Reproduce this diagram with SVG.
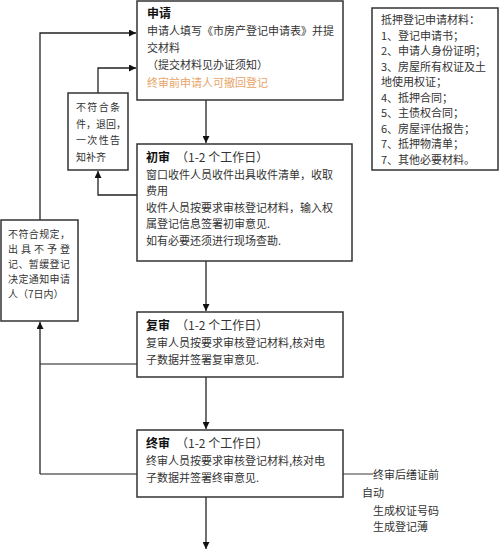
<svg xmlns="http://www.w3.org/2000/svg" width="500" height="550" viewBox="0 0 500 550">
<defs>
<marker id="ah" viewBox="0 0 10 10" refX="10" refY="5" markerWidth="7" markerHeight="7" markerUnits="userSpaceOnUse" orient="auto">
<path d="M0,0 L10,5 L0,10 z" fill="#111"/>
</marker>
<style>
.box{fill:#fff;stroke:#333;stroke-width:1.5}
.t{font-family:"Noto Sans CJK SC","Noto Sans",sans-serif;font-size:11px;fill:#333}
.s{font-size:10px}
.b{font-weight:bold;fill:#111;font-size:12px}
.h{font-size:12px}
.o{fill:#e8a468}
.c{fill:none;stroke:#222;stroke-width:1.3}
.g{fill:none;stroke:#666;stroke-width:1.3}
</style>
</defs>
<rect width="500" height="550" fill="#fff"/>
<g id="connectors">
<path class="c" d="M40,220 V33 H136" marker-end="url(#ah)"/>
<path class="c" d="M98,93 V68 H136" marker-end="url(#ah)"/>
<path class="c" d="M137,195 H98 V171" marker-end="url(#ah)"/>
<path class="c" d="M206,100 V143" marker-end="url(#ah)"/>
<path class="c" d="M206,261 V311" marker-end="url(#ah)"/>
<path class="c" d="M206,377 V429" marker-end="url(#ah)"/>
<path class="c" d="M206,497 V549" marker-end="url(#ah)"/>
<path class="g" d="M137,364 H40"/>
<path class="g" d="M137,474 H40"/>
<path class="c" d="M40,474 V322" marker-end="url(#ah)"/>
<path class="g" d="M343,474 H373"/>
</g>
<g id="apply">
<rect class="box" x="137" y="1" width="206" height="99"/>
<text class="t b" x="147" y="18">申请</text>
<text class="t" x="147" y="35">申请人填写《市房产登记申请表》并提</text>
<text class="t" x="147" y="52">交材料</text>
<text class="t" x="147" y="69"> （提交材料见办证须知）</text>
<text class="t o" x="147" y="87">终审前申请人可撤回登记</text>
</g>
<g id="materials">
<rect class="box" x="372" y="8" width="126" height="162"/>
<text class="t" x="381" y="24">抵押登记申请材料：</text>
<text class="t" x="381" y="40">1、登记申请书；</text>
<text class="t" x="381" y="55">2、申请人身份证明；</text>
<text class="t" x="381" y="71">3、房屋所有权证及土</text>
<text class="t" x="381" y="86">地使用权证；</text>
<text class="t" x="381" y="102">4、抵押合同；</text>
<text class="t" x="381" y="117">5、主债权合同；</text>
<text class="t" x="381" y="133">6、房屋评估报告；</text>
<text class="t" x="381" y="148">7、抵押物清单；</text>
<text class="t" x="381" y="164">7、其他必要材料。</text>
</g>
<g id="return">
<rect class="box" x="68" y="93" width="60" height="77"/>
<text class="t s" x="76" y="111" textLength="44" lengthAdjust="spacing">不符合条</text>
<text class="t s" x="76" y="128">件，退回，</text>
<text class="t s" x="76" y="144" textLength="44" lengthAdjust="spacing">一次性告</text>
<text class="t s" x="76" y="161">知补齐</text>
</g>
<g id="first">
<rect class="box" x="137" y="144" width="215" height="117"/>
<text class="t" x="146" y="162"><tspan class="b">初审</tspan><tspan class="h" dx="6">（1-2 个工作日）</tspan></text>
<text class="t" x="146" y="179">窗口收件人员收件出具收件清单，收取</text>
<text class="t" x="146" y="195">费用</text>
<text class="t" x="146" y="212">收件人员按要求审核登记材料，输入权</text>
<text class="t" x="146" y="228">属登记信息签署初审意见.</text>
<text class="t" x="146" y="245">如有必要还须进行现场查勘.</text>
</g>
<g id="reject">
<rect class="box" x="1" y="220" width="77" height="101"/>
<text class="t s" x="8" y="238" textLength="62" lengthAdjust="spacing">不符合规定，</text>
<text class="t s" x="8" y="253" textLength="62" lengthAdjust="spacing">出具不予登</text>
<text class="t s" x="8" y="268" textLength="62" lengthAdjust="spacing">记、暂缓登记</text>
<text class="t s" x="8" y="283" textLength="62" lengthAdjust="spacing">决定通知申请</text>
<text class="t s" x="8" y="298">人（7日内）</text>
</g>
<g id="second">
<rect class="box" x="137" y="312" width="206" height="65"/>
<text class="t" x="146" y="330"><tspan class="b">复审</tspan><tspan class="h" dx="6">（1-2 个工作日）</tspan></text>
<text class="t" x="146" y="347">复审人员按要求审核登记材料,核对电</text>
<text class="t" x="146" y="364">子数据并签署复审意见.</text>
</g>
<g id="final">
<rect class="box" x="137" y="430" width="206" height="67"/>
<text class="t" x="146" y="448"><tspan class="b">终审</tspan><tspan class="h" dx="6">（1-2 个工作日）</tspan></text>
<text class="t" x="146" y="465">终审人员按要求审核登记材料,核对电</text>
<text class="t" x="146" y="482">子数据并签署终审意见.</text>
</g>
<g id="note">
<text class="t" x="373" y="479">终审后缮证前</text>
<text class="t" x="362" y="497">自动</text>
<text class="t" x="373" y="515">生成权证号码</text>
<text class="t" x="373" y="531">生成登记薄</text>
</g>
</svg>
